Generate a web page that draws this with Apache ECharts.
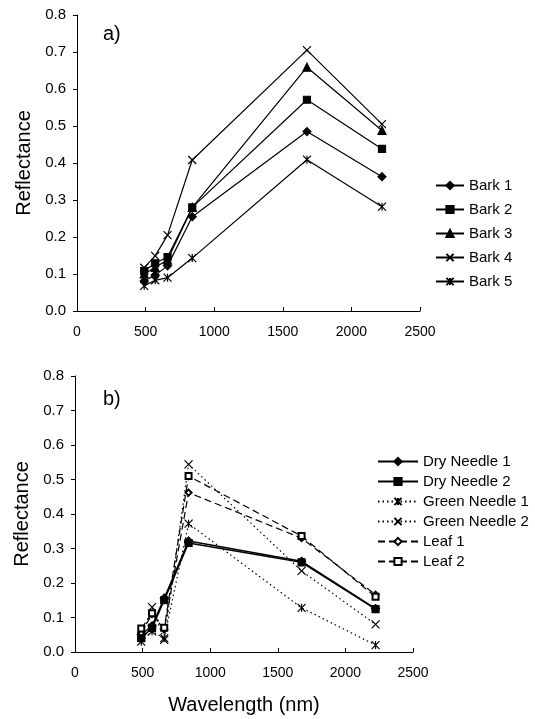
<!DOCTYPE html>
<html>
<head>
<meta charset="utf-8">
<script src="https://cdn.jsdelivr.net/npm/echarts@6/dist/echarts.min.js"></script>
<style>
  * { margin: 0; padding: 0; }
  body { background: #fff; }
</style>
</head>
<body>
<!-- container -->
<div id="spectra" style="width: 535px; height: 719px;"></div>
<script>
// band centres (nm)
var wavelength = [490, 570, 660, 840, 1676, 2223];

// a) bark
var bark1 = [0.081, 0.097, 0.122, 0.255, 0.485, 0.363];
var bark2 = [0.108, 0.129, 0.146, 0.280, 0.571, 0.438];
var bark3 = [0.100, 0.118, 0.138, 0.280, 0.659, 0.488];
var bark4 = [0.117, 0.149, 0.205, 0.408, 0.705, 0.505];
var bark5 = [0.068, 0.083, 0.090, 0.143, 0.409, 0.282];

// b) needles and leaves
var dryNeedle1 = [0.050, 0.076, 0.156, 0.322, 0.263, 0.126];
var dryNeedle2 = [0.040, 0.070, 0.150, 0.316, 0.260, 0.124];
var greenNeedle1 = [0.030, 0.060, 0.040, 0.372, 0.128, 0.020];
var greenNeedle2 = [0.045, 0.130, 0.035, 0.544, 0.235, 0.080];
var leaf1 = [0.055, 0.110, 0.065, 0.462, 0.330, 0.166];
var leaf2 = [0.068, 0.112, 0.070, 0.510, 0.336, 0.160];

var crossPath = 'path://M0,0L10,10M10,0L0,10';
var starPath = 'path://M0,0L10,10M10,0L0,10M5,0L5,10';

function pairs(ys) {
    return wavelength.map(function (w, i) { return [w, ys[i]]; });
}

function mkSeries(name, ys, idx, symbol, size, lineType, lw) {
    return {
        name: name,
        type: 'line',
        xAxisIndex: idx,
        yAxisIndex: idx,
        data: pairs(ys),
        symbol: symbol,
        symbolSize: size,
        symbolKeepAspect: true,
        showAllSymbol: true,
        lineStyle: { color: '#000', width: lw || 1.2, type: lineType || 'solid' },
        itemStyle: { color: '#000', borderColor: '#000', borderWidth: 1.2 },
        emphasis: { disabled: true },
        animation: false,
        z: 3
    };
}

function xAx(idx) {
    return {
        type: 'value',
        gridIndex: idx,
        min: 0, max: 2500, interval: 500,
        axisLine: { onZero: false, lineStyle: { color: '#000', width: 1 } },
        axisTick: { show: true, inside: true, length: 4, lineStyle: { color: '#000' } },
        axisLabel: {
            color: '#000', fontSize: 14, fontFamily: 'Liberation Sans', margin: 14,
            formatter: function (v) { return String(v); }
        },
        splitLine: { show: false },
        name: idx === 1 ? 'Wavelength (nm)' : '',
        nameLocation: 'middle',
        nameGap: 43,
        nameTextStyle: { color: '#000', fontSize: 20, fontFamily: 'Liberation Sans' }
    };
}

function yAx(idx) {
    return {
        type: 'value',
        gridIndex: idx,
        min: 0, max: 0.8, interval: 0.1,
        axisLine: { show: true, lineStyle: { color: '#000', width: 1 } },
        axisTick: { show: true, length: 4, lineStyle: { color: '#000' } },
        axisLabel: {
            color: '#000', fontSize: 15, fontFamily: 'Liberation Sans', margin: 11,
            formatter: function (v) { return v.toFixed(1); }
        },
        splitLine: { show: false },
        name: 'Reflectance',
        nameLocation: 'middle',
        nameGap: 41,
        nameTextStyle: { color: '#000', fontSize: 20, fontFamily: 'Liberation Sans' }
    };
}

var chart = echarts.init(document.getElementById('spectra'), null, { renderer: 'canvas' });
chart.setOption({
    backgroundColor: '#fff',
    animation: false,
    textStyle: { fontFamily: 'Liberation Sans', color: '#000' },
    title: [
        { text: 'a)', left: 103, top: 24, padding: 0, textStyle: { fontSize: 20, fontWeight: 'normal', color: '#000' } },
        { text: 'b)', left: 103, top: 389, padding: 0, textStyle: { fontSize: 20, fontWeight: 'normal', color: '#000' } }
    ],
    grid: [
        { left: 77, top: 15, width: 343, height: 296, outerBoundsMode: 'none' },
        { left: 75, top: 376, width: 338, height: 276, outerBoundsMode: 'none' }
    ],
    xAxis: [xAx(0), xAx(1)],
    yAxis: [yAx(0), yAx(1)],
    legend: [
        {
            data: ['Bark 1', 'Bark 2', 'Bark 3', 'Bark 4', 'Bark 5'],
            orient: 'vertical',
            left: 435, top: 178, padding: 0,
            itemWidth: 28, itemHeight: 9, itemGap: 9,
            textStyle: { fontSize: 15, color: '#000', fontFamily: 'Liberation Sans' },
            selectedMode: false
        },
        {
            data: ['Dry Needle 1', 'Dry Needle 2', 'Green Needle 1', 'Green Needle 2', 'Leaf 1', 'Leaf 2'],
            orient: 'vertical',
            left: 377, top: 454, padding: 0,
            itemWidth: 40, itemHeight: 9, itemGap: 5,
            textStyle: { fontSize: 15, color: '#000', fontFamily: 'Liberation Sans' },
            selectedMode: false
        }
    ],
    series: [
        mkSeries('Bark 1', bark1, 0, 'diamond', 8),
        mkSeries('Bark 2', bark2, 0, 'rect', 7),
        mkSeries('Bark 3', bark3, 0, 'triangle', 8),
        mkSeries('Bark 4', bark4, 0, crossPath, 8),
        mkSeries('Bark 5', bark5, 0, starPath, 8),
        mkSeries('Dry Needle 1', dryNeedle1, 1, 'diamond', 8, 'solid', 1.5),
        mkSeries('Dry Needle 2', dryNeedle2, 1, 'rect', 7, 'solid', 1.5),
        mkSeries('Green Needle 1', greenNeedle1, 1, starPath, 8, [1.5, 3]),
        mkSeries('Green Needle 2', greenNeedle2, 1, crossPath, 8, [1.5, 3]),
        mkSeries('Leaf 1', leaf1, 1, 'emptyDiamond', 6, [7, 4]),
        mkSeries('Leaf 2', leaf2, 1, 'emptyRect', 6, [7, 4])
    ]
});
</script>
</body>
</html>
